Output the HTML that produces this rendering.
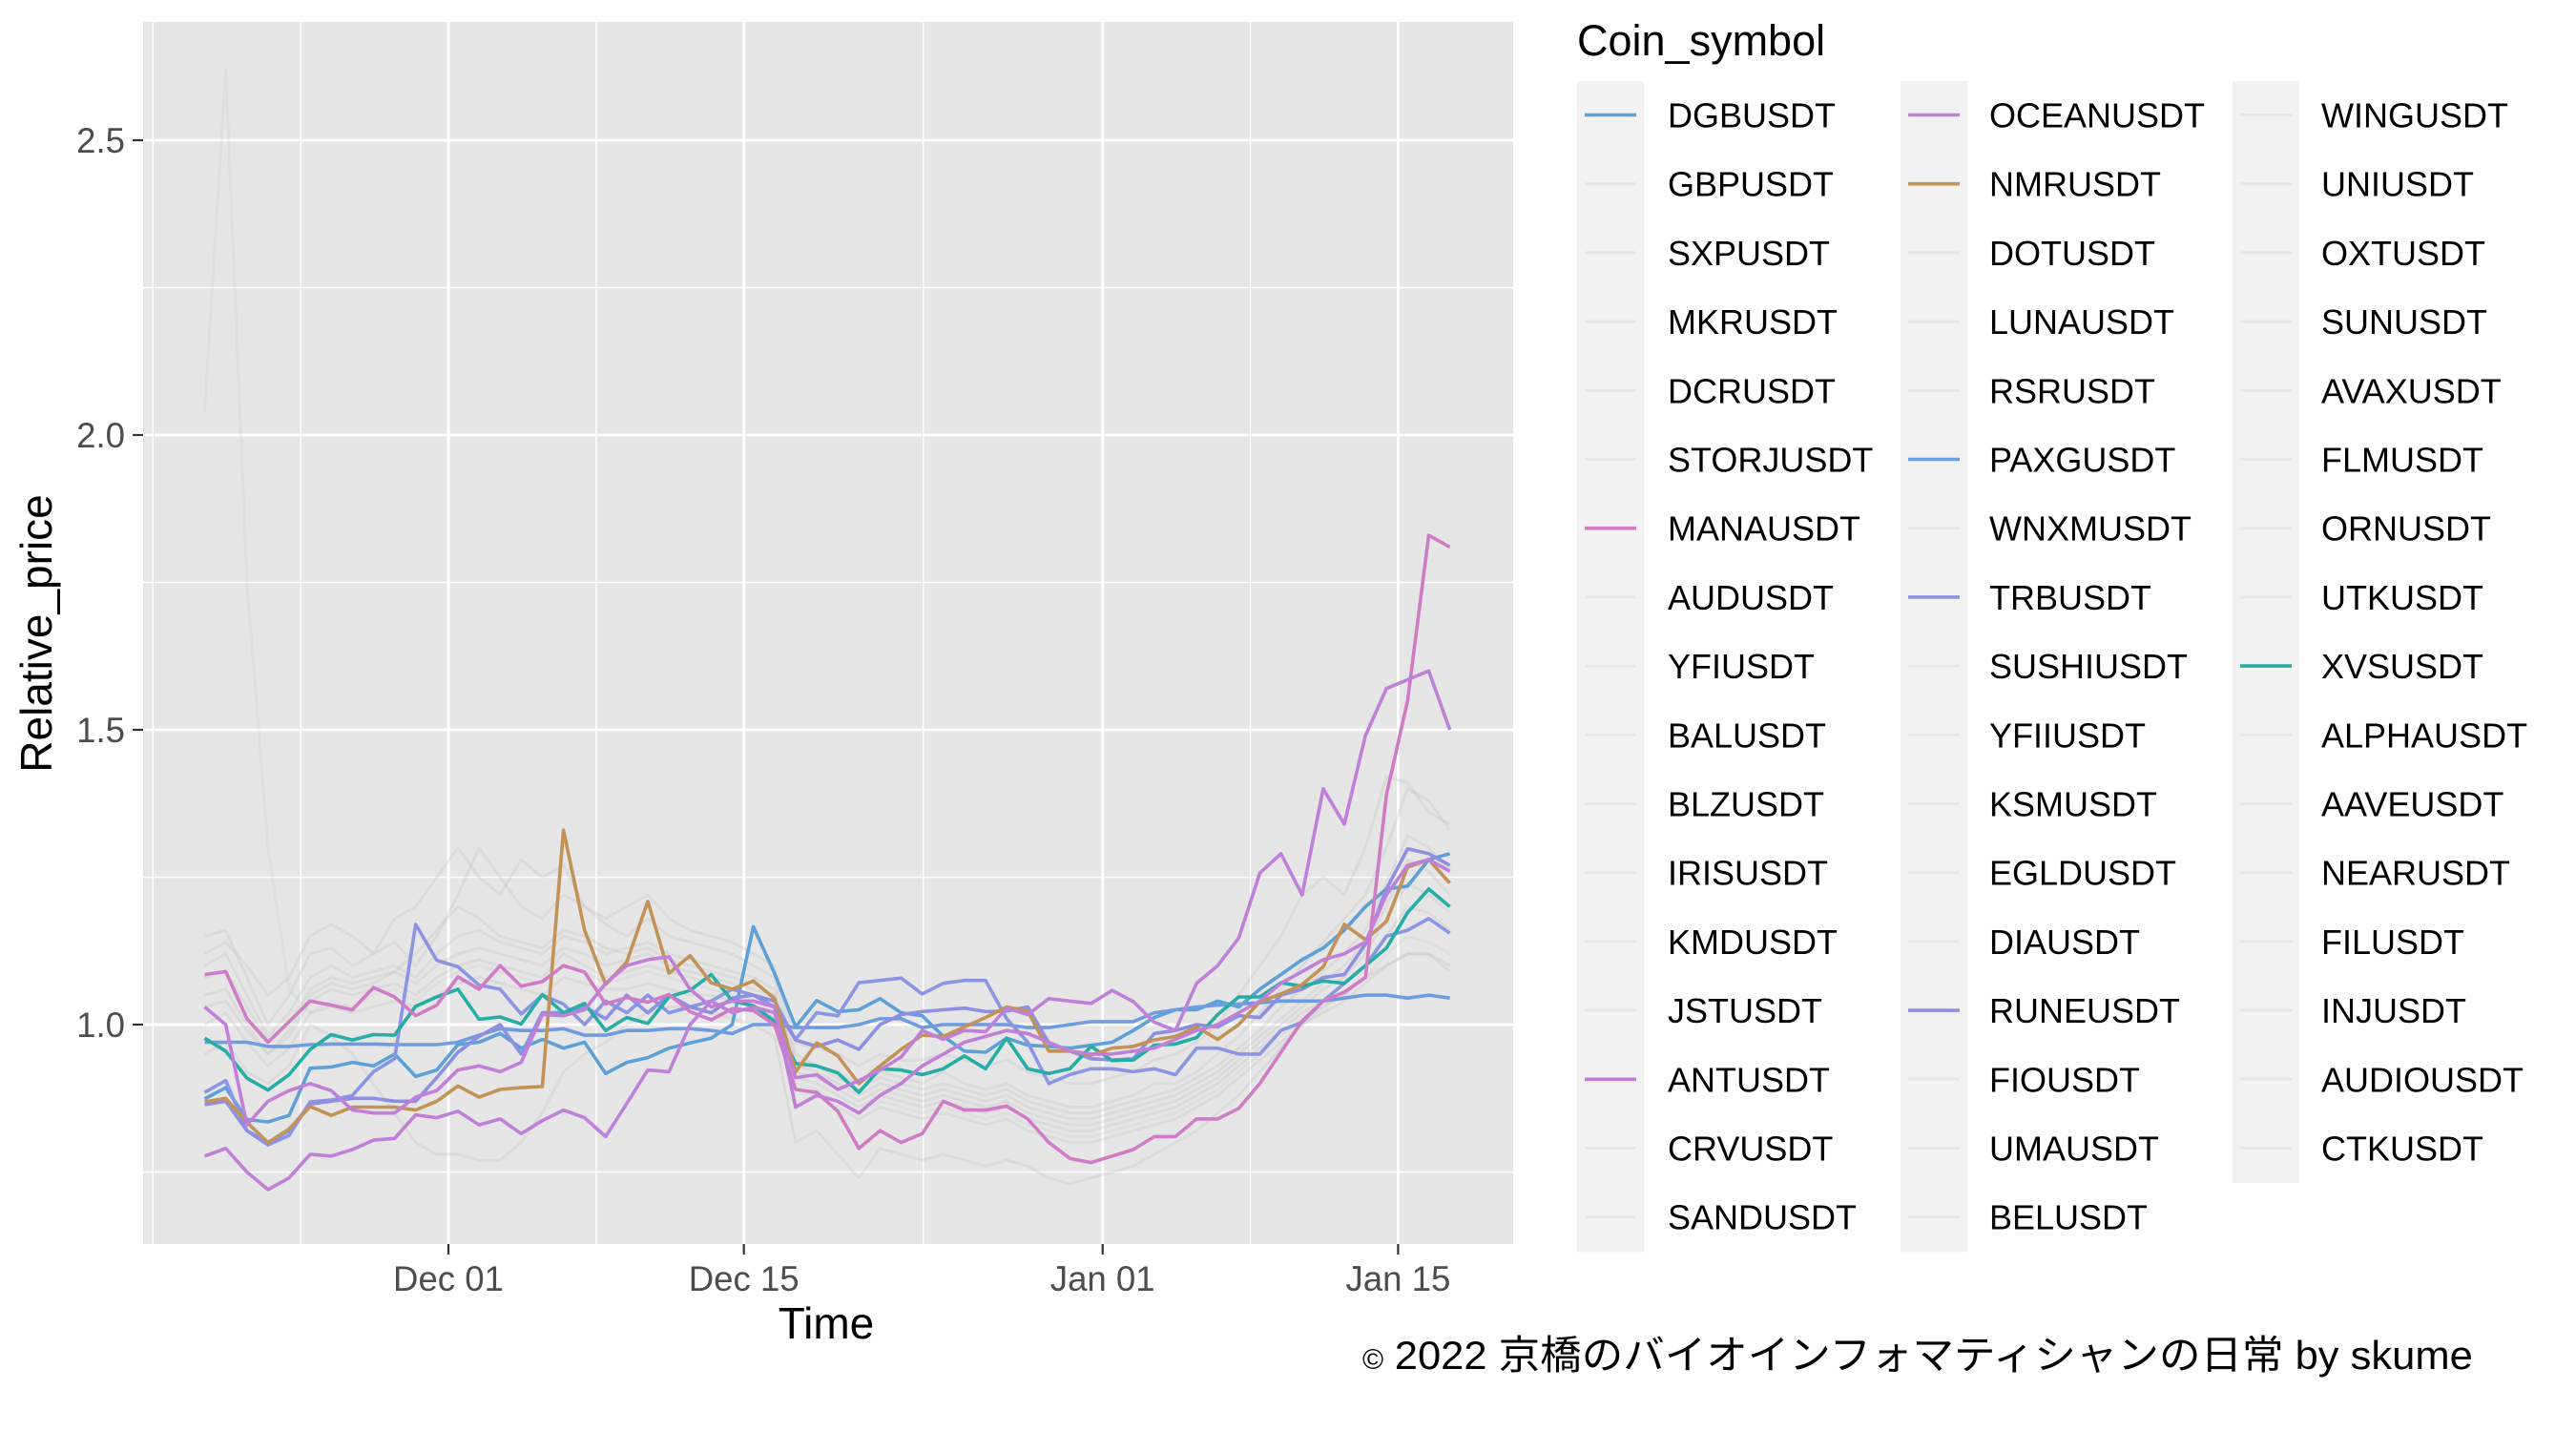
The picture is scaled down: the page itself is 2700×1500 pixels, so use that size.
<!DOCTYPE html>
<html><head><meta charset="utf-8"><title>Relative price chart</title>
<style>
html,body{margin:0;padding:0;background:#fff;}
svg{display:block;font-family:"Liberation Sans","Noto Sans CJK JP",sans-serif;}
</style></head>
<body>
<svg id="chart" width="2700" height="1500" viewBox="0 0 2700 1500" xmlns="http://www.w3.org/2000/svg">
<rect x="0" y="0" width="2700" height="1500" fill="#ffffff"/>
<rect x="150" y="23" width="1436" height="1281" fill="#E6E6E6"/>
<g id="grid"></g>
<g id="graylines"></g>
<g id="lines"></g>
<g id="axes"></g>
<text x="866" y="1403" font-size="46" text-anchor="middle" fill="#000">Time</text>
<text x="0" y="0" font-size="46" text-anchor="middle" fill="#000" transform="translate(54,664) rotate(-90)">Relative_price</text>
<text x="1653" y="58" font-size="45" fill="#000">Coin_symbol</text>
<g id="legend"></g>
<text x="1428" y="1435" font-size="42" fill="#000"><tspan font-size="30">©</tspan> <tspan textLength="1130" lengthAdjust="spacingAndGlyphs">2022 京橋のバイオインフォマティシャンの日常 by skume</tspan></text>
</svg>
<script>
// ---- data (relative price, daily points) ----
const startDay = -11.55; // first point, days relative to Dec 01
const xTickDays = [0, 14, 31, 45];
const xTickLabels = ["Dec 01", "Dec 15", "Jan 01", "Jan 15"];
const xMinorDays = [-14, -7, 7, 22.5, 38];
const yTicks = [1.0, 1.5, 2.0, 2.5];
const yTickLabels = ["1.0", "1.5", "2.0", "2.5"];
const yMinor = [0.75, 1.25, 1.75, 2.25];

const seriesNames = ["DGBUSDT","PAXGUSDT","TRBUSDT","RUNEUSDT","XVSUSDT","NMRUSDT","MANAUSDT","ANTUSDT","OCEANUSDT"];
const seriesColors = ["#5DA0D8","#6F9CE0","#8A96E3","#8D8FE2","#26ADA6","#C39257","#CF7BC6","#BF80D9","#C27FD8"];
const DGB = [0.874,0.893,0.839,0.835,0.846,0.926,0.928,0.936,0.93,0.95,0.912,0.923,0.966,0.97,0.985,0.96,0.975,0.96,0.97,0.917,0.936,0.944,0.96,0.969,0.977,1.0,1.166,1.087,0.996,1.041,1.022,1.025,1.044,1.02,1.015,0.98,0.955,0.953,0.977,0.965,0.963,0.96,0.965,0.97,0.99,1.012,1.025,1.025,1.04,1.03,1.06,1.085,1.11,1.13,1.16,1.20,1.23,1.235,1.28,1.29];
const PAXG = [0.97,0.97,0.97,0.963,0.963,0.966,0.967,0.967,0.967,0.966,0.966,0.966,0.97,0.982,0.993,0.99,0.99,0.993,0.982,0.982,0.99,0.99,0.993,0.993,0.99,0.985,1.0,1.0,0.995,0.995,0.995,1.0,1.01,1.01,0.995,1.0,1.0,1.0,1.0,0.995,0.995,1.0,1.005,1.005,1.005,1.02,1.025,1.03,1.033,1.035,1.037,1.04,1.04,1.04,1.045,1.05,1.05,1.045,1.05,1.045];
const TRB = [0.885,0.905,0.82,0.796,0.812,0.869,0.872,0.88,0.92,0.942,1.17,1.109,1.098,1.067,1.06,1.018,1.05,1.035,1.0,1.04,1.02,1.05,1.02,1.03,1.04,1.06,1.05,1.03,0.975,1.02,1.015,1.071,1.075,1.079,1.052,1.07,1.075,1.075,1.01,0.97,0.90,0.915,0.925,0.925,0.92,0.925,0.915,0.96,0.96,0.95,0.95,0.99,1.004,1.04,1.07,1.10,1.15,1.16,1.18,1.155];
const RUNE = [0.864,0.87,0.82,0.80,0.82,0.865,0.87,0.875,0.875,0.87,0.87,0.91,0.953,0.98,1.0,0.95,1.02,1.02,1.03,1.01,1.05,1.02,1.05,1.03,1.02,1.045,1.05,1.04,0.974,0.963,0.974,0.958,1.0,1.017,1.022,1.025,1.028,1.022,1.023,1.03,0.969,0.955,0.942,0.94,0.942,0.985,0.99,1.0,0.996,1.015,1.012,1.05,1.06,1.08,1.085,1.136,1.23,1.298,1.29,1.27];
const XVS = [0.977,0.955,0.909,0.889,0.915,0.958,0.983,0.974,0.983,0.982,1.031,1.047,1.06,1.009,1.013,1.001,1.051,1.02,1.036,0.99,1.012,1.002,1.047,1.058,1.085,1.04,1.032,1.006,0.934,0.93,0.918,0.885,0.925,0.923,0.915,0.925,0.947,0.925,0.977,0.925,0.917,0.925,0.963,0.939,0.94,0.965,0.967,0.978,1.017,1.047,1.047,1.071,1.065,1.074,1.07,1.10,1.13,1.19,1.23,1.20];
const NMR = [0.869,0.875,0.834,0.80,0.823,0.861,0.846,0.86,0.86,0.86,0.855,0.87,0.896,0.877,0.89,0.893,0.895,1.33,1.16,1.068,1.106,1.209,1.087,1.117,1.071,1.06,1.074,1.044,0.92,0.969,0.947,0.90,0.93,0.958,0.982,0.98,0.996,1.012,1.03,1.023,0.955,0.955,0.948,0.96,0.963,0.974,0.98,0.996,0.975,1.0,1.039,1.052,1.068,1.098,1.17,1.144,1.175,1.267,1.28,1.24];
const MANA = [1.085,1.09,1.01,0.97,1.005,1.04,1.033,1.025,1.063,1.047,1.015,1.033,1.081,1.06,1.1,1.065,1.073,1.1,1.089,1.035,1.046,1.038,1.051,1.022,1.008,1.027,1.024,1.0,0.89,0.885,0.853,0.79,0.82,0.80,0.815,0.87,0.855,0.855,0.862,0.84,0.80,0.773,0.766,0.777,0.788,0.81,0.81,0.84,0.84,0.858,0.90,0.953,1.006,1.04,1.055,1.08,1.39,1.55,1.83,1.81];
const ANT = [0.777,0.79,0.75,0.72,0.74,0.78,0.777,0.788,0.804,0.807,0.847,0.842,0.853,0.83,0.84,0.815,0.837,0.855,0.842,0.81,0.866,0.923,0.92,1.0,1.04,1.02,1.03,1.02,0.91,0.915,0.89,0.905,0.923,0.945,0.99,0.975,0.99,0.988,1.028,1.017,1.044,1.04,1.036,1.058,1.039,1.004,0.99,1.07,1.10,1.147,1.257,1.29,1.22,1.40,1.34,1.49,1.57,1.585,1.60,1.50];
const OCEAN = [1.03,1.00,0.83,0.87,0.888,0.90,0.888,0.855,0.85,0.85,0.877,0.888,0.923,0.93,0.92,0.936,1.017,1.015,1.025,1.07,1.10,1.11,1.115,1.06,1.03,1.04,1.04,1.03,0.86,0.88,0.87,0.85,0.88,0.90,0.93,0.95,0.97,0.98,0.99,0.985,0.97,0.955,0.95,0.95,0.955,0.96,0.975,0.99,1.00,1.02,1.04,1.07,1.09,1.11,1.12,1.14,1.22,1.27,1.28,1.26];

// background (grey) coins
const G1 = [1.15,1.16,1.08,1.00,1.05,1.12,1.13,1.10,1.12,1.14,1.10,1.15,1.22,1.30,1.25,1.20,1.18,1.22,1.20,1.17,1.15,1.18,1.15,1.14,1.13,1.12,1.10,1.08,0.95,0.93,0.92,0.90,0.92,0.91,0.90,0.92,0.90,0.89,0.90,0.88,0.87,0.86,0.86,0.87,0.88,0.90,0.90,0.92,0.95,0.98,1.02,1.06,1.10,1.14,1.18,1.22,1.30,1.40,1.38,1.33];
const G2 = [1.10,1.12,1.05,0.98,1.02,1.08,1.10,1.08,1.09,1.10,1.08,1.12,1.15,1.16,1.14,1.13,1.12,1.15,1.14,1.12,1.13,1.14,1.12,1.11,1.10,1.09,1.08,1.06,0.93,0.92,0.90,0.88,0.90,0.89,0.88,0.89,0.88,0.87,0.88,0.86,0.85,0.84,0.84,0.85,0.86,0.87,0.88,0.90,0.92,0.95,0.98,1.01,1.04,1.07,1.10,1.14,1.20,1.28,1.26,1.22];
const G3 = [1.05,1.06,1.00,0.95,0.98,1.04,1.06,1.05,1.06,1.07,1.05,1.08,1.10,1.11,1.10,1.09,1.08,1.12,1.10,1.08,1.09,1.10,1.09,1.08,1.07,1.06,1.05,1.03,0.91,0.90,0.88,0.86,0.88,0.87,0.86,0.87,0.86,0.85,0.86,0.84,0.83,0.82,0.82,0.83,0.84,0.85,0.86,0.88,0.90,0.93,0.96,0.99,1.02,1.04,1.07,1.10,1.15,1.20,1.19,1.16];
const G4 = [1.00,1.02,0.97,0.93,0.96,1.02,1.03,1.02,1.03,1.04,1.03,1.05,1.07,1.08,1.07,1.06,1.05,1.08,1.07,1.06,1.06,1.07,1.06,1.05,1.05,1.04,1.03,1.01,0.89,0.88,0.86,0.84,0.86,0.85,0.84,0.85,0.84,0.83,0.84,0.82,0.81,0.80,0.80,0.81,0.82,0.83,0.84,0.86,0.88,0.91,0.94,0.97,1.00,1.02,1.04,1.07,1.10,1.12,1.12,1.09];
const G5 = [0.95,0.97,0.92,0.90,0.93,1.00,0.98,0.95,0.90,0.85,0.80,0.78,0.78,0.77,0.77,0.80,0.85,0.92,0.95,0.97,1.00,1.02,1.03,1.03,1.02,1.01,1.00,0.98,0.80,0.82,0.78,0.74,0.79,0.78,0.77,0.78,0.77,0.76,0.77,0.76,0.74,0.73,0.74,0.75,0.76,0.78,0.80,0.82,0.85,0.88,0.92,0.96,1.00,1.03,1.05,1.08,1.10,1.12,1.12,1.10];
const G6 = [1.12,1.14,1.10,1.05,1.08,1.15,1.17,1.15,1.12,1.18,1.20,1.25,1.30,1.25,1.22,1.28,1.25,1.27,1.20,1.18,1.20,1.22,1.18,1.16,1.15,1.14,1.12,1.10,0.97,0.96,0.95,0.93,0.95,0.94,0.94,0.95,0.94,0.93,0.94,0.92,0.91,0.90,0.90,0.91,0.92,0.94,0.95,0.97,1.00,1.05,1.10,1.15,1.22,1.25,1.22,1.30,1.42,1.41,1.36,1.34];
const G7 = [1.08,1.09,1.03,0.97,1.00,1.06,1.08,1.07,1.08,1.09,1.07,1.10,1.12,1.13,1.12,1.11,1.10,1.13,1.12,1.10,1.11,1.12,1.10,1.09,1.08,1.07,1.06,1.05,0.92,0.91,0.89,0.87,0.89,0.88,0.87,0.88,0.87,0.86,0.87,0.85,0.84,0.83,0.83,0.84,0.85,0.86,0.87,0.89,0.91,0.94,0.97,1.00,1.03,1.06,1.08,1.12,1.18,1.24,1.22,1.19];
const G8 = [2.04,2.62,1.75,1.30,1.06,1.02,1.04,1.03,1.05,1.06,1.04,1.07,1.09,1.10,1.09,1.08,1.07,1.10,1.09,1.07,1.08,1.09,1.08,1.07,1.06,1.05,1.04,1.02,0.90,0.89,0.87,0.85,0.87,0.86,0.85,0.86,0.85,0.84,0.85,0.83,0.82,0.81,0.81,0.82,0.83,0.84,0.85,0.87,0.89,0.92,0.95,0.98,1.01,1.03,1.05,1.08,1.12,1.15,1.14,1.12];
const G9 = [1.03,1.04,0.99,0.95,0.99,1.05,1.07,1.06,1.07,1.09,1.12,1.16,1.20,1.18,1.15,1.14,1.13,1.16,1.15,1.13,1.12,1.13,1.11,1.10,1.09,1.08,1.07,1.05,0.94,0.93,0.91,0.89,0.91,0.90,0.89,0.90,0.89,0.88,0.89,0.87,0.86,0.85,0.85,0.86,0.87,0.88,0.89,0.91,0.93,0.96,0.99,1.03,1.06,1.09,1.12,1.16,1.24,1.32,1.30,1.26];

// ---- axis functions ----
const PX_PER_DAY = 22.12;
function xScale(day){ return 470 + day * PX_PER_DAY; }
function yScale(v){ return 1074 - (v - 1) * 618; }
const NS = "http://www.w3.org/2000/svg";
function mk(tag, attrs){ const e = document.createElementNS(NS, tag); for (const k in attrs) e.setAttribute(k, attrs[k]); return e; }

const grid = document.getElementById('grid');
yMinor.forEach(v => {
  const l = mk('line', {x1:150, x2:1586, y1:yScale(v), y2:yScale(v), stroke:'#fff', 'stroke-width':1.4});
  
  
  grid.appendChild(l);
});
xMinorDays.forEach(d => {
  const l = mk('line', {x1:xScale(d), x2:xScale(d), y1:23, y2:1304, stroke:'#fff', 'stroke-width':1.4});
  
  
  grid.appendChild(l);
});
yTicks.forEach(v => {
  const l = mk('line', {x1:150, x2:1586, y1:yScale(v), y2:yScale(v), stroke:'#fff', 'stroke-width':2.8});
  
  
  grid.appendChild(l);
});
xTickDays.forEach(d => {
  const l = mk('line', {x1:xScale(d), x2:xScale(d), y1:23, y2:1304, stroke:'#fff', 'stroke-width':2.8});
  
  
  grid.appendChild(l);
});

function pathFor(arr){
  return arr.map((v, i) => (i ? 'L' : 'M') + xScale(startDay + i).toFixed(1) + ' ' + yScale(v).toFixed(1)).join(' ');
}
const grays = [G1, G2, G3, G4, G5, G6, G7, G8, G9];
const gg = document.getElementById('graylines');
grays.forEach((arr, k) => {
  const p = mk('path', {d:pathFor(arr), fill:'none', stroke:'#c4c4c4', 'stroke-opacity': k === 7 ? 0.2 : 0.3, 'stroke-width':3, 'stroke-linejoin':'round'});
  
  
  gg.appendChild(p);
});
const colored = [DGB, PAXG, TRB, RUNE, XVS, NMR, MANA, ANT, OCEAN];
const lg = document.getElementById('lines');
colored.forEach((arr, k) => {
  const p = mk('path', {d:pathFor(arr), fill:'none', stroke:seriesColors[k], 'stroke-width':3.6, 'stroke-linejoin':'round'});
  
  
  lg.appendChild(p);
});

// axes ticks & labels
const ax = document.getElementById('axes');
yTicks.forEach((v, i) => {
  const t = mk('line', {x1:139, x2:150, y1:yScale(v), y2:yScale(v), stroke:'#333', 'stroke-width':2.2});
  
  
  ax.appendChild(t);
  const tx = mk('text', {x:131, y:yScale(v) + 13, 'font-size':36.6, 'text-anchor':'end', fill:'#4D4D4D'});
  tx.textContent = yTickLabels[i];
  
  
  ax.appendChild(tx);
});
xTickDays.forEach((d, i) => {
  const t = mk('line', {x1:xScale(d), x2:xScale(d), y1:1304, y2:1315, stroke:'#333', 'stroke-width':2.2});
  
  
  ax.appendChild(t);
  const tx = mk('text', {x:xScale(d), y:1353, 'font-size':36.6, 'text-anchor':'middle', fill:'#4D4D4D'});
  tx.textContent = xTickLabels[i];
  
  
  ax.appendChild(tx);
});

// legend
const legendCols = [
  ["DGBUSDT","GBPUSDT","SXPUSDT","MKRUSDT","DCRUSDT","STORJUSDT","MANAUSDT","AUDUSDT","YFIUSDT","BALUSDT","BLZUSDT","IRISUSDT","KMDUSDT","JSTUSDT","ANTUSDT","CRVUSDT","SANDUSDT"],
  ["OCEANUSDT","NMRUSDT","DOTUSDT","LUNAUSDT","RSRUSDT","PAXGUSDT","WNXMUSDT","TRBUSDT","SUSHIUSDT","YFIIUSDT","KSMUSDT","EGLDUSDT","DIAUSDT","RUNEUSDT","FIOUSDT","UMAUSDT","BELUSDT"],
  ["WINGUSDT","UNIUSDT","OXTUSDT","SUNUSDT","AVAXUSDT","FLMUSDT","ORNUSDT","UTKUSDT","XVSUSDT","ALPHAUSDT","AAVEUSDT","NEARUSDT","FILUSDT","INJUSDT","AUDIOUSDT","CTKUSDT"]
];
const colKeyX = [1653, 1992, 2340];
const colLabelX = [1748, 2085, 2433];
const ROW0 = 120.5, ROWH = 72.2;
const leg = document.getElementById('legend');
legendCols.forEach((col, c) => {
  const bg = mk('rect', {x:colKeyX[c], y:ROW0 - ROWH/2 + 0.5, width:70, height:col.length * ROWH, fill:'#F2F2F2'});
  
  
  leg.appendChild(bg);
  col.forEach((name, r) => {
    const y = ROW0 + r * ROWH;
    const k = seriesNames.indexOf(name);
    const ln = mk('line', {x1:colKeyX[c] + 8, x2:colKeyX[c] + 62, y1:y, y2:y,
      stroke: k >= 0 ? seriesColors[k] : '#dedede', 'stroke-width': k >= 0 ? 3.6 : 3, 'stroke-opacity': k >= 0 ? 1 : 0.6});
    
    
    leg.appendChild(ln);
    const tx = mk('text', {x:colLabelX[c], y:y + 13, 'font-size':36, fill:'#000'});
    tx.textContent = name;
    
    
    leg.appendChild(tx);
  });
});
</script>
</body></html>
